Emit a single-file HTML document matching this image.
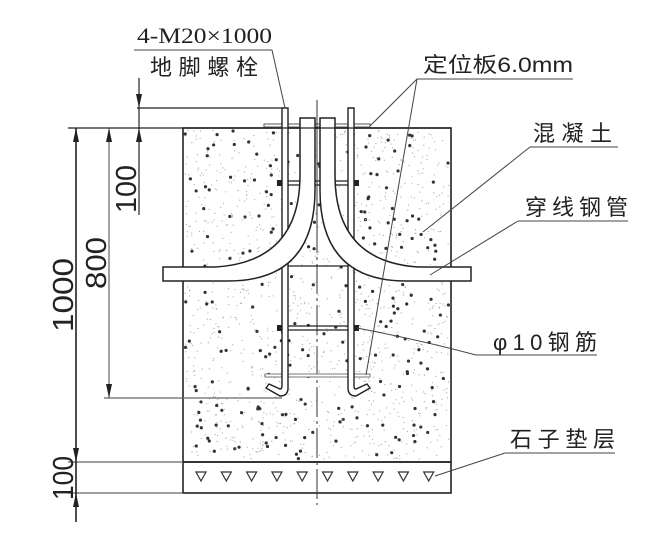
<!DOCTYPE html>
<html><head><meta charset="utf-8"><style>
html,body{margin:0;padding:0;background:#fff}
svg{display:block}
text{font-family:"Liberation Sans","Noto Sans CJK SC",sans-serif;fill:#222}
</style></head><body>
<svg id="s" width="662" height="533" viewBox="0 0 662 533" xmlns="http://www.w3.org/2000/svg">
<g id="dots"></g>
<g fill="none" stroke="#222" stroke-width="1.6">
<rect x="183" y="128" width="268" height="334"/>
<rect x="183" y="462" width="268" height="31"/>
</g>
<g fill="none" stroke="#333" stroke-width="1.2" id="tri"></g>
<line x1="317" y1="100" x2="317" y2="505" stroke="#333" stroke-width="1" stroke-dasharray="30,4,3,4"/>
<g stroke="#222" stroke-width="1.3">
<line x1="282" y1="181" x2="354" y2="181"/><line x1="282" y1="185" x2="354" y2="185"/>
<line x1="282" y1="266" x2="354" y2="266"/>
<line x1="282" y1="326" x2="354" y2="326"/><line x1="282" y1="330" x2="354" y2="330"/>
</g>
<g fill="#222"><rect x="277" y="180" width="5" height="6"/><rect x="354" y="180" width="5" height="6"/>
<rect x="277" y="325" width="5" height="6"/><rect x="354" y="325" width="5" height="6"/></g>
<rect x="264" y="124" width="106" height="3" fill="#fff" stroke="#555" stroke-width="1"/>
<rect x="265" y="374" width="105" height="3" fill="#fff" stroke="#777" stroke-width="1"/>
<g fill="#fff" stroke="#222" stroke-width="1.4">
<path d="M282,108 H288 V388 Q288,396 280,396 L266,388 L269,384 L280,389 Q282,389 282,386 Z"/>
<path d="M348,108 H354 V386 Q354,389 356,389 L367,384 L370,388 L356,396 Q348,396 348,388 Z"/>
</g>
<g fill="#fff" stroke="#222" stroke-width="1.5">
<path d="M163,267 H215 Q300,262 300,175 V118 H315 V190 Q315,281 228,281 H163 Z"/>
<path d="M471,267 H419 Q335,262 335,175 V118 H320 V190 Q320,281 406,281 H471 Z"/>
</g>
<line x1="317" y1="118" x2="317" y2="240" stroke="#333" stroke-width="1"/>
<g stroke="#222" stroke-width="1.2" fill="none">
<line x1="68" y1="128" x2="451" y2="128"/>
<line x1="137" y1="108" x2="282" y2="108"/>
<line x1="104" y1="398" x2="282" y2="398" stroke="#666"/>
<line x1="68" y1="462" x2="183" y2="462" stroke="#666"/>
<line x1="68" y1="493" x2="183" y2="493" stroke="#666"/>
<line x1="76" y1="128" x2="76" y2="522" stroke-width="1.6"/>
<line x1="109" y1="128" x2="109" y2="398" stroke="#666"/>
<line x1="139" y1="78" x2="139" y2="215"/>
</g>
<g fill="#222">
<path d="M76,128 l-3,14 h6z"/><path d="M76,462 l-3,-14 h6z"/><path d="M76,493 l-3,14 h6z"/>
<path d="M109,128 l-3,14 h6z"/><path d="M109,398 l-3,-14 h6z"/>
<path d="M139,108 l-3,-14 h6z"/><path d="M139,128 l-3,14 h6z"/>
</g>
<g font-size="29" stroke="none" fill="#333">
<text transform="translate(73,295) rotate(-90)" text-anchor="middle" textLength="74" lengthAdjust="spacingAndGlyphs">1000</text>
<text transform="translate(106,263) rotate(-90)" text-anchor="middle" textLength="52" lengthAdjust="spacingAndGlyphs">800</text>
<text transform="translate(136,189) rotate(-90)" text-anchor="middle" textLength="48" lengthAdjust="spacingAndGlyphs">100</text>
<text transform="translate(73,478) rotate(-90)" text-anchor="middle" textLength="44" lengthAdjust="spacingAndGlyphs">100</text>
</g>
<g stroke="#444" stroke-width="1" fill="none">
<line x1="134" y1="50" x2="272" y2="50"/><line x1="272" y1="50" x2="285" y2="108"/>
<line x1="417" y1="79" x2="573" y2="79"/><line x1="417" y1="79" x2="370" y2="126"/><line x1="417" y1="79" x2="366" y2="375"/>
<line x1="530" y1="147" x2="618" y2="147"/><line x1="530" y1="147" x2="423" y2="232"/>
<line x1="518" y1="221" x2="628" y2="221"/><line x1="518" y1="221" x2="430" y2="275"/>
<line x1="476" y1="355" x2="597" y2="355"/><path d="M476,355 Q420,340 357,328"/>
<line x1="505" y1="453" x2="615" y2="453"/><line x1="505" y1="453" x2="435" y2="476"/>
</g>
<g font-size="20">
<text x="137" y="43" style="font-family:'Liberation Serif',serif" font-size="22" textLength="135" lengthAdjust="spacingAndGlyphs">4-M20×1000</text>
<text x="150" y="75" font-size="22" textLength="108">地脚螺栓</text>
<text x="423" y="72" font-size="21" textLength="150" lengthAdjust="spacingAndGlyphs">定位板6.0mm</text>
<text x="533" y="141" font-size="22" textLength="79">混凝土</text>
<text x="525" y="215" font-size="22" textLength="103">穿线钢管</text>
<text x="493" y="350" font-size="22" textLength="104">φ10钢筋</text>
<text x="510" y="447" font-size="22" textLength="105">石子垫层</text>
</g>
</svg>
<script>
(function(){
var ns="http://www.w3.org/2000/svg",g=document.getElementById("dots"),t=document.getElementById("tri");
var s=12345;function r(){s=(s*1103515245+12345)%2147483648;return s/2147483648;}
for(var i=0;i<1500;i++){var x=185+r()*264,y=130+r()*330;var big=r()<0.15;
var c=document.createElementNS(ns,"circle");c.setAttribute("cx",x);c.setAttribute("cy",y);
c.setAttribute("r",big?1.6:0.6);c.setAttribute("fill",big?"#333":"#aaa");g.appendChild(c);}
for(var k=0;k<10;k++){var cx=201+k*25.3;var p=document.createElementNS(ns,"path");
p.setAttribute("d","M"+(cx-5)+",472 h10 l-5,9 z");t.appendChild(p);}
})();
</script>
</body></html>
